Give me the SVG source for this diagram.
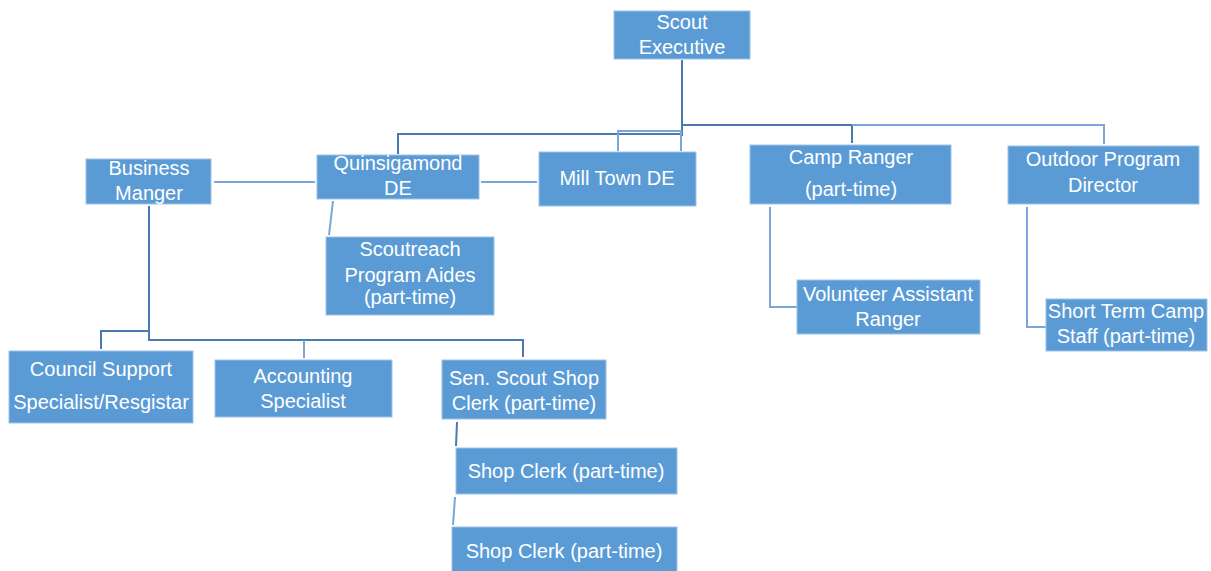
<svg xmlns="http://www.w3.org/2000/svg" width="1211" height="571" viewBox="0 0 1211 571">
<style>
.box{fill:#5B9BD5;stroke:#9DC3E6;stroke-width:1}
.t{font-family:"Liberation Sans",Arial,sans-serif;font-size:20px;fill:#FFFFFF;text-anchor:middle}
.c{fill:none;stroke:#7AA7D8;stroke-width:2}
.d{fill:none;stroke:#4A7AB0;stroke-width:2}
</style>
<rect width="1211" height="571" fill="#FFFFFF"/>
<g id="connectors">
<path class="d" d="M682,60 V136" stroke-width="3"/>
<path class="d" d="M682,125 H852 V143"/>
<path class="c" d="M852,125 H1104 V144"/>
<path class="d" d="M682,134 H398 V154"/>
<path class="c" d="M682,131 H618 V151"/>
<path class="c" d="M681,131 V151"/>
<path class="c" d="M214,182 H315"/>
<path class="c" d="M481,182 H537"/>
<path class="c" d="M333,201 L329,235"/>
<path class="d" d="M149,206 V340 H523 V357"/>
<path class="c" d="M304,340 V358"/>
<path class="d" d="M149,331 H101 V349"/>
<path class="d" d="M457,422 L456,446"/>
<path class="c" d="M455,497 L453,525"/>
<path class="c" d="M770,207 V307 H797"/>
<path class="c" d="M1027,207 V327 H1046"/>
</g>
<g id="scout-executive"><rect class="box" x="614" y="11" width="136" height="48"/><text class="t" x="682" y="29">Scout</text><text class="t" x="682" y="54">Executive</text></g>
<g id="business-manger"><rect class="box" x="86" y="159" width="125" height="45"/><text class="t" x="149" y="175">Business</text><text class="t" x="149" y="200">Manger</text></g>
<g id="quinsigamond-de"><rect class="box" x="317" y="155" width="162" height="44"/><text class="t" x="398" y="170">Quinsigamond</text><text class="t" x="398" y="195">DE</text></g>
<g id="mill-town-de"><rect class="box" x="539" y="152" width="157" height="54"/><text class="t" x="617" y="185">Mill Town DE</text></g>
<g id="camp-ranger"><rect class="box" x="750" y="145" width="201" height="59"/><text class="t" x="851" y="164">Camp Ranger</text><text class="t" x="851" y="196">(part-time)</text></g>
<g id="outdoor-program-director"><rect class="box" x="1008" y="146" width="191" height="58"/><text class="t" x="1103" y="166">Outdoor Program</text><text class="t" x="1103" y="192">Director</text></g>
<g id="scoutreach"><rect class="box" x="326" y="237" width="168" height="78"/><text class="t" x="410" y="256">Scoutreach</text><text class="t" x="410" y="282">Program Aides</text><text class="t" x="410" y="304">(part-time)</text></g>
<g id="volunteer-assistant-ranger"><rect class="box" x="797" y="280" width="183" height="54"/><text class="t" x="888" y="301">Volunteer Assistant</text><text class="t" x="888" y="326">Ranger</text></g>
<g id="short-term-camp-staff"><rect class="box" x="1046" y="299" width="161" height="52"/><text class="t" x="1126" y="318">Short Term Camp</text><text class="t" x="1126" y="343">Staff (part-time)</text></g>
<g id="council-support"><rect class="box" x="9" y="351" width="184" height="72"/><text class="t" x="101" y="376">Council Support</text><text class="t" x="101" y="409">Specialist/Resgistar</text></g>
<g id="accounting-specialist"><rect class="box" x="215" y="360" width="177" height="57"/><text class="t" x="303" y="383">Accounting</text><text class="t" x="303" y="408">Specialist</text></g>
<g id="sen-scout-shop-clerk"><rect class="box" x="442" y="360" width="164" height="59"/><text class="t" x="524" y="385">Sen. Scout Shop</text><text class="t" x="524" y="410">Clerk (part-time)</text></g>
<g id="shop-clerk-1"><rect class="box" x="456" y="448" width="221" height="46"/><text class="t" x="566" y="478">Shop Clerk (part-time)</text></g>
<g id="shop-clerk-2"><rect class="box" x="452" y="527" width="225" height="50"/><text class="t" x="564" y="558">Shop Clerk (part-time)</text></g>
</svg>
